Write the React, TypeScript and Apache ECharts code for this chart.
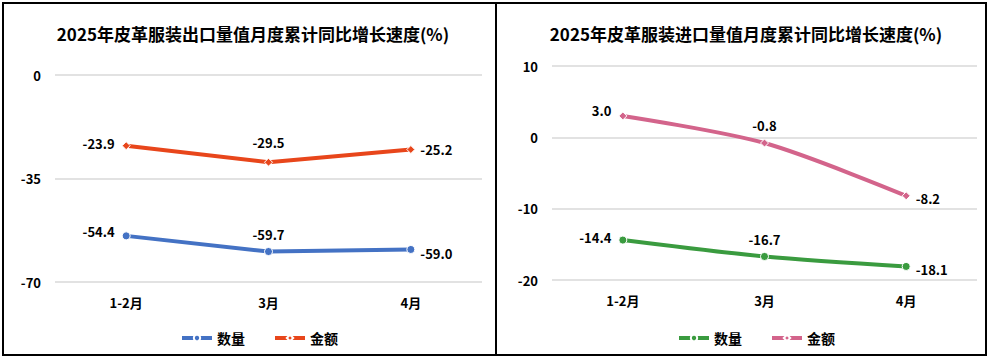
import React, { useEffect, useRef } from "react";
import * as echarts from "echarts";

const categories = ["1-2月", "3月", "4月"];

const exportQty = [-54.4, -59.7, -59.0];
const exportValue = [-23.9, -29.5, -25.2];

const importQty = [-14.4, -16.7, -18.1];
const importValue = [3.0, -0.8, -8.2];

const exportTitle = "2025年皮革服装出口量值月度累计同比增长速度(%)";
const importTitle = "2025年皮革服装进口量值月度累计同比增长速度(%)";

const FONT = "'Noto Sans CJK SC', 'Noto Sans', sans-serif";

type LabelCfg = { position: string; offset: [number, number] };

function makeData(values: number[], labels: LabelCfg[]) {
  return values.map((v, i) => ({
    value: v,
    label: { position: labels[i].position, offset: labels[i].offset },
  }));
}

function makeOption(cfg: {
  title: string;
  titleX: number;
  qty: number[];
  val: number[];
  qtyColor: string;
  valColor: string;
  min: number;
  max: number;
  interval: number;
  grid: { left: number; right: number; top: number; bottom: number };
  qtyLabels: LabelCfg[];
  valLabels: LabelCfg[];
  smooth: boolean | number;
  legendX: number;
}) {
  const labelStyle = {
    show: true,
    fontFamily: FONT,
    fontSize: 13,
    fontWeight: "bold",
    color: "#000",
    formatter: (p: any) => Number(p.value).toFixed(1),
  };
  return {
    animation: false,
    title: {
      text: cfg.title,
      left: cfg.titleX,
      top: 20,
      textAlign: "center",
      textStyle: { fontFamily: FONT, fontSize: 17, fontWeight: "bold", color: "#000" },
    },
    legend: {
      data: [
        { name: "数量", lineStyle: { width: 4, color: cfg.qtyColor } },
        { name: "金额", lineStyle: { width: 4, color: cfg.valColor } },
      ],
      left: cfg.legendX,
      top: 326,
      itemWidth: 30,
      itemHeight: 8,
      itemGap: 28,
      textStyle: { fontFamily: FONT, fontSize: 14, fontWeight: "bold", color: "#000" },
    },
    grid: cfg.grid,
    xAxis: {
      type: "category",
      data: categories,
      boundaryGap: true,
      axisLine: { show: false },
      axisTick: { show: false },
      axisLabel: {
        fontFamily: FONT,
        fontSize: 13,
        fontWeight: "bold",
        color: "#000",
        margin: 14,
      },
    },
    yAxis: {
      type: "value",
      min: cfg.min,
      max: cfg.max,
      interval: cfg.interval,
      axisLine: { show: false },
      axisTick: { show: false },
      axisLabel: {
        fontFamily: FONT,
        fontSize: 13,
        fontWeight: "bold",
        color: "#000",
        margin: 14,
      },
      splitLine: { lineStyle: { color: "#d9d9d9", width: 1.5 } },
    },
    series: [
      {
        name: "数量",
        type: "line",
        data: makeData(cfg.qty, cfg.qtyLabels),
        smooth: cfg.smooth,
        symbol: "circle",
        symbolSize: 8,
        lineStyle: { color: cfg.qtyColor, width: 4 },
        itemStyle: { color: cfg.qtyColor, borderColor: "#fff", borderWidth: 1 },
        label: labelStyle,
      },
      {
        name: "金额",
        type: "line",
        data: makeData(cfg.val, cfg.valLabels),
        smooth: cfg.smooth,
        symbol: "diamond",
        symbolSize: 8,
        lineStyle: { color: cfg.valColor, width: 4 },
        itemStyle: { color: cfg.valColor, borderColor: "#fff", borderWidth: 1 },
        label: labelStyle,
      },
    ],
  };
}

function Chart({ option, style }: { option: any; style: React.CSSProperties }) {
  const ref = useRef<HTMLDivElement>(null);
  useEffect(() => {
    if (!ref.current) return;
    const chart = echarts.init(ref.current, null, { renderer: "svg" });
    chart.setOption(option);
    return () => chart.dispose();
  }, [option]);
  return <div ref={ref} style={{ position: "absolute", ...style }} />;
}

const leftOption = makeOption({
  title: exportTitle,
  titleX: 248,
  qty: exportQty,
  val: exportValue,
  qtyColor: "#4472C4",
  valColor: "#E8461B",
  min: -70,
  max: 0,
  interval: 35,
  grid: { left: 55, right: 14, top: 75, bottom: 77 },
  qtyLabels: [
    { position: "left", offset: [-2, -4] },
    { position: "top", offset: [0, -1] },
    { position: "right", offset: [0, 4] },
  ],
  valLabels: [
    { position: "left", offset: [-2, -2] },
    { position: "top", offset: [0, -4] },
    { position: "right", offset: [0, 0] },
  ],
  smooth: false,
  legendX: 175,
});

const rightOption = makeOption({
  title: importTitle,
  titleX: 245,
  qty: importQty,
  val: importValue,
  qtyColor: "#3A9B3F",
  valColor: "#D3648B",
  min: -20,
  max: 10,
  interval: 10,
  grid: { left: 56, right: 12, top: 66, bottom: 79 },
  qtyLabels: [
    { position: "left", offset: [-2, -3] },
    { position: "top", offset: [0, -1] },
    { position: "right", offset: [0, 3] },
  ],
  valLabels: [
    { position: "left", offset: [-2, -5] },
    { position: "top", offset: [0, -2] },
    { position: "right", offset: [0, 3] },
  ],
  smooth: 0.3,
  legendX: 176,
});

export default function App() {
  return (
    <div
      style={{
        position: "fixed",
        left: 0,
        top: 0,
        width: 989,
        height: 359,
        background: "#fff",
        overflow: "hidden",
      }}
    >
      <Chart option={leftOption} style={{ left: 0, top: 0, width: 496, height: 359 }} />
      <Chart option={rightOption} style={{ left: 496, top: 0, width: 493, height: 359 }} />
      <div
        style={{
          position: "absolute",
          left: 2,
          top: 2,
          width: 985,
          height: 354,
          border: "2px solid #000",
          boxSizing: "border-box",
          pointerEvents: "none",
        }}
      />
      <div
        style={{
          position: "absolute",
          left: 495,
          top: 2,
          width: 2,
          height: 354,
          background: "#000",
          pointerEvents: "none",
        }}
      />
    </div>
  );
}
